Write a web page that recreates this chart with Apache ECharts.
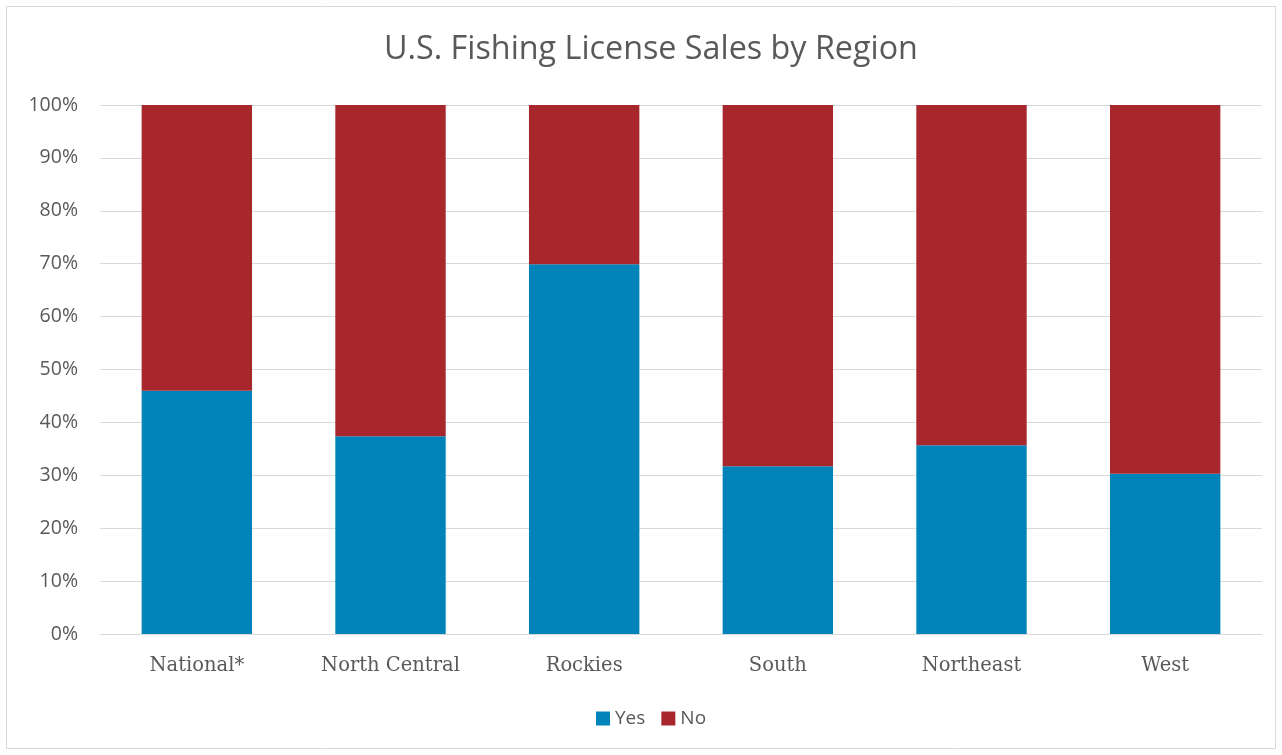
<!DOCTYPE html>
<html>
<head>
<meta charset="utf-8">
<script src="https://cdn.jsdelivr.net/npm/echarts@6/dist/echarts.min.js"></script>
<style>
  html, body { margin: 0; padding: 0; background: #fff; }
  #chart { width: 1282px; height: 755px; }
</style>
</head>
<body>
<div id="chart"></div>
<script>
// Regions and share of respondents (percent)
const regions = ['National*', 'North Central', 'Rockies', 'South', 'Northeast', 'West'];
const yesShare = [46.0, 37.4, 69.9, 31.7, 35.7, 30.3];
const noShare = [54.0, 62.6, 30.1, 68.3, 64.3, 69.7];
const yTicks = [0, 10, 20, 30, 40, 50, 60, 70, 80, 90, 100];

const chart = echarts.init(document.getElementById('chart'), null, { renderer: 'canvas' });

chart.setOption({
  backgroundColor: '#ffffff',
  animation: false,
  title: {
    text: 'U.S. Fishing License Sales by Region',
    left: 379,
    top: 29,
    textStyle: {
      fontFamily: 'Open Sans',
      fontSize: 32.3,
      fontWeight: 'normal',
      color: '#595959'
    }
  },
  graphic: [{
    type: 'rect',
    shape: { x: 6.5, y: 6.5, width: 1269, height: 742 },
    style: { fill: 'none', stroke: '#d9d9d9', lineWidth: 1 },
    silent: true,
    z: -1
  }],
  legend: {
    bottom: 22,
    left: 591,
    itemWidth: 14,
    itemHeight: 14,
    itemGap: 16,
    icon: 'rect',
    textStyle: { fontFamily: 'Open Sans', fontSize: 19, color: '#595959' },
    data: ['Yes', 'No']
  },
  grid: { left: 100, right: 20, top: 105, bottom: 121 },
  xAxis: {
    type: 'category',
    data: regions,
    axisLine: { lineStyle: { color: '#d9d9d9' } },
    axisTick: { show: false },
    axisLabel: {
      fontFamily: 'DejaVu Serif',
      fontSize: 19.5,
      color: '#595959',
      margin: 22
    }
  },
  yAxis: {
    type: 'value',
    min: yTicks[0],
    max: yTicks[yTicks.length - 1],
    interval: 10,
    axisLine: { show: false },
    axisTick: { show: false },
    splitLine: { lineStyle: { color: '#d9d9d9', width: 1 } },
    axisLabel: {
      fontFamily: 'Open Sans',
      fontSize: 19.5,
      color: '#595959',
      margin: 22,
      formatter: v => v + '%'
    }
  },
  series: [
    {
      name: 'Yes',
      type: 'bar',
      stack: 'share',
      barWidth: '57%',
      itemStyle: { color: '#0083b9' },
      data: yesShare
    },
    {
      name: 'No',
      type: 'bar',
      stack: 'share',
      barWidth: '57%',
      itemStyle: { color: '#a8272d' },
      data: noShare
    }
  ]
});
</script>
</body>
</html>
